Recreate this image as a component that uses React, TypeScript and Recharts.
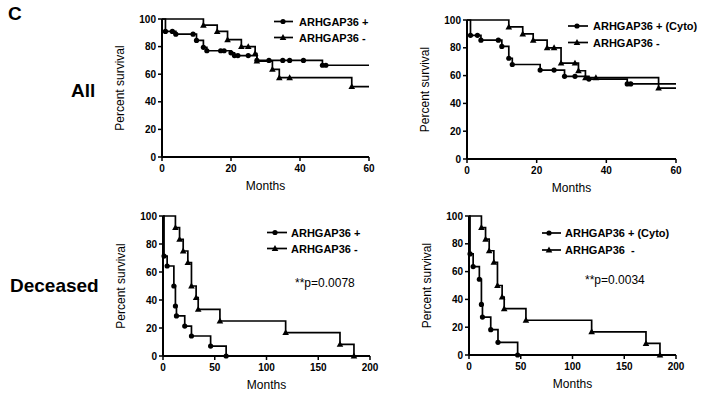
import { Line, LineChart, XAxis, YAxis } from "recharts";

const FONT = '"Liberation Sans", Arial, Helvetica, sans-serif';
const INK = "#000";

// [months, percent survival, symbol drawn (1) or not (0)]
type Row = [number, number, number];

// All patients, ARHGAP36 staining
const ALL_POS: Row[] = [
  [0, 100, 0], [1, 91, 1], [3, 91, 1], [4, 89, 1], [9, 89, 1], [10, 84.5, 1],
  [12, 79.5, 1], [13, 77, 1], [17, 77, 1], [18, 77, 1], [20, 75.5, 1], [21, 73.5, 1],
  [22, 73.5, 1], [25, 73.5, 1], [27.5, 70, 1], [31, 70, 1], [35, 70, 1], [37, 70, 1],
  [41, 70, 1], [46.5, 66.5, 1], [47.5, 66.5, 1], [60, 66.5, 0],
];
const ALL_NEG: Row[] = [
  [0, 100, 0], [12, 95.5, 1], [16, 91, 1], [19, 85, 1], [23, 80, 1], [25, 80, 1],
  [27, 75, 1], [27.5, 69.5, 1], [32, 63.5, 1], [34, 57.5, 1], [37, 57.5, 1],
  [55, 51, 1], [60, 51, 0],
];

// All patients, cytoplasmic staining
const ALL_CYTO_POS: Row[] = [
  [0, 100, 0], [1, 89, 1], [3, 89, 1], [4, 85.5, 1], [9, 85.5, 1], [10, 81, 1],
  [12, 72.5, 1], [13, 68, 1], [21, 64, 1], [25, 64, 1], [28, 59.5, 1], [31, 59.5, 1],
  [35, 57.5, 1], [46, 54, 1], [47, 54, 1], [60, 54, 0],
];
const ALL_CYTO_NEG: Row[] = [
  [0, 100, 0], [12, 95, 1], [16, 90, 1], [19, 85.5, 1], [23, 80, 1], [25, 80, 1],
  [27, 69, 1], [31, 69, 1], [32, 63.5, 1], [34, 58.5, 1], [37, 58.5, 1],
  [55, 51, 1], [60, 51, 0],
];

// Deceased patients
const DEC_POS: Row[] = [
  [0, 100, 0], [1, 71.4, 1], [4, 64.3, 1], [10.5, 50, 1], [12, 35.7, 1], [13, 28.6, 1],
  [21, 21.4, 1], [27.5, 14.3, 1], [46, 7.1, 1], [61, 0, 1],
];
const DEC_CYTO_POS: Row[] = [
  [0, 100, 0], [1, 72.7, 1], [4, 63.6, 1], [10, 54.5, 1], [12, 36.4, 1], [13, 27.3, 1],
  [21, 18.2, 1], [28, 9.1, 1], [47, 0, 1],
];
const DEC_NEG: Row[] = [
  [0, 100, 0], [12, 91.7, 1], [16, 83.3, 1], [19.5, 75, 1], [24, 66.7, 1], [27.5, 50, 1],
  [32, 41.7, 1], [34, 33.3, 1], [55, 25, 1], [118.5, 16.7, 1], [171, 8.3, 1], [184.5, 0, 1],
];

const Y_TICKS = [0, 20, 40, 60, 80, 100];
const X_TICKS_ALL = [0, 20, 40, 60];
const X_TICKS_DEC = [0, 50, 100, 150, 200];

const toPts = (rows: Row[]) => rows.map(([x, y, m]) => ({ x, y, m }));

const circleDot = (p: any) =>
  p.payload?.m ? (
    <circle key={`c${p.index}`} cx={p.cx} cy={p.cy} r={2.6} fill={INK} />
  ) : (
    <g key={`c${p.index}`} />
  );

const triPath = (cx: number, cy: number, s = 3.3) =>
  `${cx},${cy - s * 1.05} ${cx + s},${cy + s * 0.75} ${cx - s},${cy + s * 0.75}`;

const triDot = (p: any) =>
  p.payload?.m ? (
    <polygon key={`t${p.index}`} points={triPath(p.cx, p.cy)} fill={INK} />
  ) : (
    <g key={`t${p.index}`} />
  );

const TICK = { fontSize: 10, fontWeight: 700, fill: INK, fontFamily: FONT };
const TITLE = { fill: INK, fontSize: 12, fontFamily: FONT };

type Plot = { l: number; r: number; t: number; b: number };

function KMPanel({
  plot,
  xMax,
  xTicks,
  pos,
  neg,
}: {
  plot: Plot;
  xMax: number;
  xTicks: number[];
  pos: Row[];
  neg: Row[];
}) {
  const YW = 60, MT = 8, MR = 16, MB = 6, XH = 33;
  const width = YW + (plot.r - plot.l) + MR;
  const height = MT + (plot.b - plot.t) + XH + MB;
  return (
    <div style={{ position: "absolute", left: plot.l - YW, top: plot.t - MT }}>
      <LineChart width={width} height={height} margin={{ top: MT, right: MR, bottom: MB, left: 0 }}>
        <XAxis
          type="number"
          dataKey="x"
          domain={[0, xMax]}
          ticks={xTicks}
          height={XH}
          tick={TICK}
          tickSize={4}
          tickMargin={4}
          axisLine={{ stroke: INK, strokeWidth: 2 }}
          tickLine={{ stroke: INK, strokeWidth: 1.5 }}
          label={{ value: "Months", position: "insideBottom", offset: 0, ...TITLE }}
        />
        <YAxis
          type="number"
          domain={[0, 100]}
          ticks={Y_TICKS}
          width={YW}
          tick={TICK}
          tickSize={4}
          tickMargin={2}
          axisLine={{ stroke: INK, strokeWidth: 2 }}
          tickLine={{ stroke: INK, strokeWidth: 1.5 }}
          label={{
            value: "Percent survival",
            angle: -90,
            position: "insideLeft",
            offset: 17.5,
            style: { textAnchor: "middle" },
            ...TITLE,
          }}
        />
        <Line
          data={toPts(neg)}
          dataKey="y"
          type="stepAfter"
          stroke={INK}
          strokeWidth={1.7}
          dot={triDot}
          activeDot={false}
          isAnimationActive={false}
        />
        <Line
          data={toPts(pos)}
          dataKey="y"
          type="stepAfter"
          stroke={INK}
          strokeWidth={1.7}
          dot={circleDot}
          activeDot={false}
          isAnimationActive={false}
        />
      </LineChart>
    </div>
  );
}

function KMLegend({
  rows,
  line,
  mark,
  textX,
  labels,
}: {
  rows: number[];
  line: [number, number];
  mark: number;
  textX: number;
  labels: string[];
}) {
  return (
    <g>
      {rows.map((y, i) => (
        <g key={i}>
          <line x1={line[0]} x2={line[1]} y1={y} y2={y} stroke={INK} strokeWidth={1.7} />
          {i === 0 ? (
            <circle cx={mark} cy={y} r={2.6} fill={INK} />
          ) : (
            <polygon points={triPath(mark, y)} fill={INK} />
          )}
          <text
            x={textX}
            y={y + 4}
            fontSize={11}
            fontWeight={700}
            fontFamily={FONT}
            fill={INK}
            style={{ whiteSpace: "pre" }}
          >
            {labels[i]}
          </text>
        </g>
      ))}
    </g>
  );
}

export default function App() {
  return (
    <div
      style={{
        position: "absolute",
        left: 0,
        top: 0,
        width: 702,
        height: 395,
        background: "#fff",
        overflow: "hidden",
      }}
    >
      <KMPanel plot={{ l: 162, r: 369, t: 19, b: 157 }} xMax={60} xTicks={X_TICKS_ALL} pos={ALL_POS} neg={ALL_NEG} />
      <KMPanel plot={{ l: 467, r: 676, t: 20, b: 159 }} xMax={60} xTicks={X_TICKS_ALL} pos={ALL_CYTO_POS} neg={ALL_CYTO_NEG} />
      <KMPanel plot={{ l: 163, r: 370, t: 216, b: 356 }} xMax={200} xTicks={X_TICKS_DEC} pos={DEC_POS} neg={DEC_NEG} />
      <KMPanel plot={{ l: 469, r: 676, t: 216, b: 355 }} xMax={200} xTicks={X_TICKS_DEC} pos={DEC_CYTO_POS} neg={DEC_NEG} />

      <svg
        width={702}
        height={395}
        style={{ position: "absolute", left: 0, top: 0, pointerEvents: "none" }}
      >
        <g fontFamily={FONT} fontWeight={700} fill={INK}>
          <text x={8} y={20} fontSize={19}>C</text>
          <text x={71} y={97} fontSize={19}>All</text>
          <text x={10} y={292} fontSize={19}>Deceased</text>
        </g>

        <KMLegend rows={[21.5, 37.5]} line={[274, 293]} mark={283} textX={299} labels={["ARHGAP36 +", "ARHGAP36 -"]} />
        <KMLegend rows={[26, 42.5]} line={[568, 588]} mark={577} textX={593} labels={["ARHGAP36 + (Cyto)", "ARHGAP36 -"]} />
        <KMLegend rows={[232.5, 248.5]} line={[267, 287]} mark={275} textX={291} labels={["ARHGAP36 +", "ARHGAP36 -"]} />
        <KMLegend rows={[233, 250]} line={[542, 561]} mark={549} textX={565} labels={["ARHGAP36 + (Cyto)", "ARHGAP36  -"]} />

        <g fontFamily={FONT} fontSize={12} fill={INK}>
          <text x={295} y={287}>**p=0.0078</text>
          <text x={585} y={284}>**p=0.0034</text>
        </g>
      </svg>
    </div>
  );
}
